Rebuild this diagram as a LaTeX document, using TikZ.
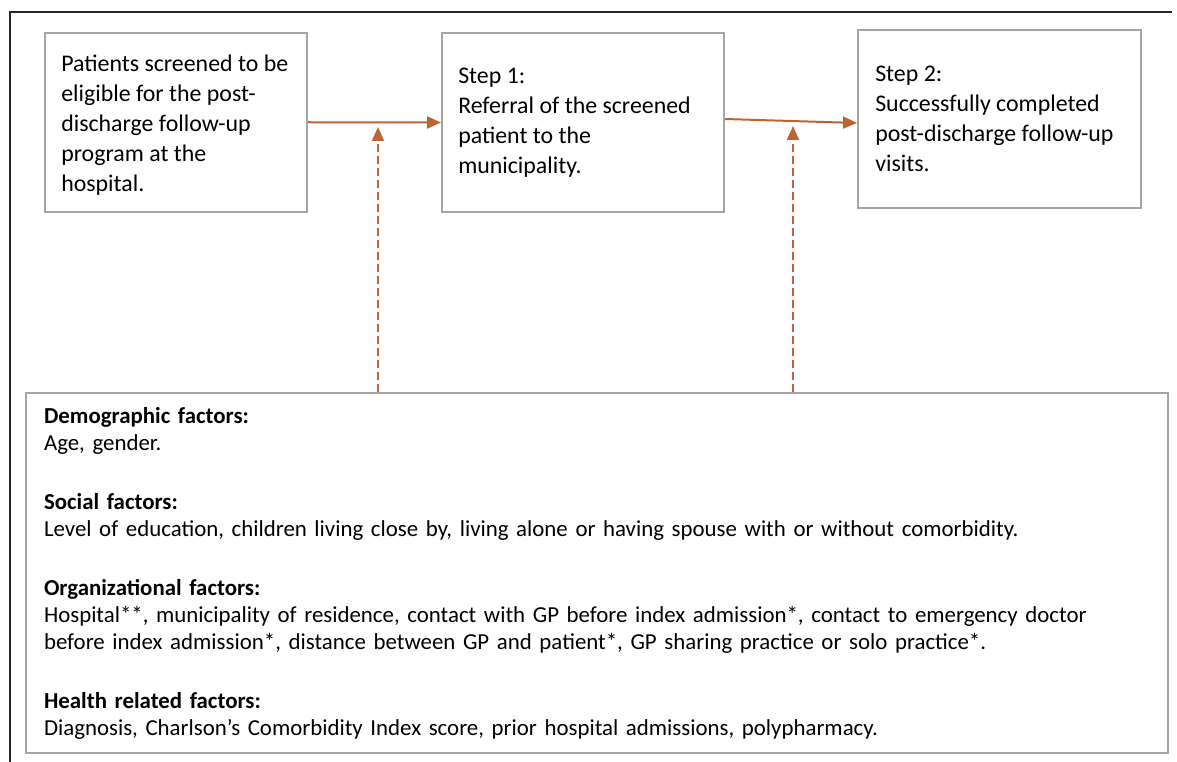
\documentclass[tikz,border=0pt]{standalone}
\usepackage{fontspec}
\setmainfont{Carlito}
\usetikzlibrary{arrows.meta,calc}
\definecolor{arrowc}{RGB}{190,100,52}
\definecolor{boxc}{RGB}{165,165,165}
\begin{document}
\begin{tikzpicture}[x=0.75pt,y=-0.75pt,
  box/.style={draw=boxc,line width=1.5pt,inner sep=0pt},
  boxtext/.style={anchor=west,align=left,inner sep=0pt,font=\fontsize{17.9pt}{22.4pt}\selectfont},
  flow/.style={draw=arrowc,line width=1.5pt,-{Triangle[length=10.5pt,width=9pt]}},
  dflow/.style={flow,dash pattern=on 6pt off 3pt},
  frame/.style={draw=black!85,line width=1.1pt}]
\useasboundingbox (0,0) rectangle (1177,762);
% frame
\coordinate (f1) at (10,762);
\coordinate (f2) at (10,12);
\coordinate (f3) at (1172,12);
\draw[frame] (f1) -- (f2) -- (f3);
% top boxes
\node[box,minimum width=196.5pt,minimum height=134.6pt] (a) at (176,122.25) {};
\node[box,minimum width=211.5pt,minimum height=134.25pt] (b) at (583,122.5) {};
\node[box,minimum width=212.25pt,minimum height=134.1pt] (c) at (999.5,119) {};
\node[boxtext] (atext) at ($(a.west)+(17,3)$) {Patients screened to be\\eligible for the post-\\discharge follow-up\\program at the\\hospital.};
\node[boxtext] (btext) at ($(b.west)+(17,0)$) {Step 1:\\Referral of the screened\\patient to the\\municipality.};
\node[boxtext] (ctext) at ($(c.west)+(18,0)$) {Step 2:\\Successfully completed\\post-discharge follow-up\\visits.};
% big box
\node[box,minimum width=856.1pt,minimum height=269.55pt,text width=829.1pt,inner xsep=13.5pt,align=left,
  font=\fontsize{17.15pt}{20.25pt}\selectfont] (big) at (596.75,573) {%
\textbf{Demographic factors:}\\
Age, gender.\\[24pt]
\textbf{Social factors:}\\
Level of education, children living close by, living alone or having spouse with or without comorbidity.\\[24pt]
\textbf{Organizational factors:}\\
Hospital**, municipality of residence, contact with GP before index admission*, contact to emergency doctor\\
before index admission*, distance between GP and patient*, GP sharing practice or solo practice*.\\[24pt]
\textbf{Health related factors:}\\
Diagnosis, Charlson’s Comorbidity Index score, prior hospital admissions, polypharmacy.};
% arrows
\draw[flow] (a.east) -- (b.west);
\draw[flow] ($(b.east)+(0,-3.5)$) -- ($(c.west)+(0,4)$);
\coordinate (t1) at (378,127);
\coordinate (t2) at (793,126);
\draw[dflow] (t1 |- big.north) -- (t1);
\draw[dflow] (t2 |- big.north) -- (t2);
\end{tikzpicture}
\end{document}
